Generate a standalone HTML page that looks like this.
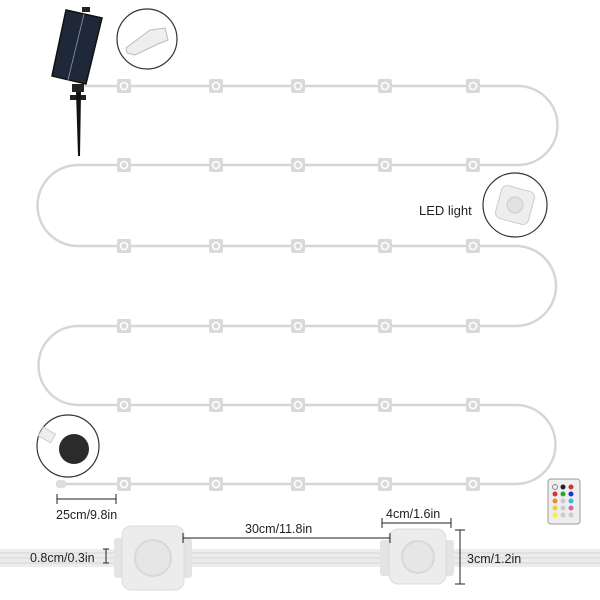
<!DOCTYPE html>
<html><head><style>
html,body{margin:0;padding:0;background:#fff;width:600px;height:600px;overflow:hidden}
svg text{font-family:"Liberation Sans",sans-serif;fill:#222}
</style></head><body>
<svg width="600" height="600" viewBox="0 0 600 600" xmlns="http://www.w3.org/2000/svg">
<defs>
<g id="n"><rect x="-7" y="-7" width="14" height="14" rx="2" fill="#d9d9d9"/><circle r="3.5" fill="none" stroke="#fff" stroke-width="1.6"/></g>
</defs>
<path d="M84 86 H518 A39.5 39.5 0 0 1 518 165 H78 A40.5 40.5 0 0 0 78 246 H516 A40 40 0 0 1 516 326 H78 A39.5 39.5 0 0 0 78 405 H516 A39.5 39.5 0 0 1 516 484 H60" fill="none" stroke="#d6d6d6" stroke-width="2.5"/>
<rect x="56" y="480" width="10" height="8" rx="3" fill="#ddd"/>
<g>
<use href="#n" x="124" y="86"/><use href="#n" x="216" y="86"/><use href="#n" x="298" y="86"/><use href="#n" x="385" y="86"/><use href="#n" x="473" y="86"/>
<use href="#n" x="124" y="165"/><use href="#n" x="216" y="165"/><use href="#n" x="298" y="165"/><use href="#n" x="385" y="165"/><use href="#n" x="473" y="165"/>
<use href="#n" x="124" y="246"/><use href="#n" x="216" y="246"/><use href="#n" x="298" y="246"/><use href="#n" x="385" y="246"/><use href="#n" x="473" y="246"/>
<use href="#n" x="124" y="326"/><use href="#n" x="216" y="326"/><use href="#n" x="298" y="326"/><use href="#n" x="385" y="326"/><use href="#n" x="473" y="326"/>
<use href="#n" x="124" y="405"/><use href="#n" x="216" y="405"/><use href="#n" x="298" y="405"/><use href="#n" x="385" y="405"/><use href="#n" x="473" y="405"/>
<use href="#n" x="124" y="484"/><use href="#n" x="216" y="484"/><use href="#n" x="298" y="484"/><use href="#n" x="385" y="484"/><use href="#n" x="473" y="484"/>
</g>
<polygon points="66,10 102,18 86,84 52,76" fill="#1f2838" stroke="#111" stroke-width="1.5"/>
<line x1="84" y1="14" x2="68" y2="80" stroke="#8899aa" stroke-width="0.8"/>
<rect x="82" y="7" width="8" height="5" fill="#222"/>
<rect x="72" y="84" width="12" height="8" fill="#222"/>
<rect x="70" y="95" width="16" height="5" fill="#222"/>
<polygon points="76,92 81,92 80,156 78,156" fill="#111"/>
<circle cx="147" cy="39" r="30" fill="#fff" stroke="#333" stroke-width="1.2"/>
<polygon points="150,30 165,28 168,40 158,44 135,55 127,53 126,48" fill="#eee" stroke="#bbb"/>
<circle cx="515" cy="205" r="32" fill="#fff" stroke="#333" stroke-width="1.2"/>
<rect x="498" y="188" width="34" height="34" rx="6" fill="#eee" stroke="#ccc" transform="rotate(15 515 205)"/>
<circle cx="515" cy="205" r="8" fill="#e2e2e2" stroke="#ccc"/>
<text x="419" y="215" font-size="13">LED light</text>
<circle cx="68" cy="446" r="31" fill="#fff" stroke="#333" stroke-width="1.2"/>
<rect x="40" y="430" width="14" height="10" fill="#eee" stroke="#ccc" transform="rotate(30 47 435)"/>
<circle cx="74" cy="449" r="15" fill="#2b2b2b"/>
<rect x="548" y="479" width="32" height="45" rx="3" fill="#eee" stroke="#999"/>
<g>
<circle cx="555" cy="487" r="2.5" fill="#eee" stroke="#888"/><circle cx="563" cy="487" r="2.5" fill="#222"/><circle cx="571" cy="487" r="2.5" fill="#c33"/>
<circle cx="555" cy="494" r="2.5" fill="#d33"/><circle cx="563" cy="494" r="2.5" fill="#2a3"/><circle cx="571" cy="494" r="2.5" fill="#23c"/>
<circle cx="555" cy="501" r="2.5" fill="#e83"/><circle cx="563" cy="501" r="2.5" fill="#ccc"/><circle cx="571" cy="501" r="2.5" fill="#3bd"/>
<circle cx="555" cy="508" r="2.5" fill="#ec3"/><circle cx="563" cy="508" r="2.5" fill="#ccc"/><circle cx="571" cy="508" r="2.5" fill="#c6a"/>
<circle cx="555" cy="515" r="2.5" fill="#ee4"/><circle cx="563" cy="515" r="2.5" fill="#ccc"/><circle cx="571" cy="515" r="2.5" fill="#ccc"/>
</g>
<rect x="0" y="549" width="600" height="18" fill="#ececec"/>
<line x1="0" y1="553" x2="600" y2="553" stroke="#d6d6d6"/>
<line x1="0" y1="558" x2="600" y2="558" stroke="#d6d6d6"/>
<line x1="0" y1="563" x2="600" y2="563" stroke="#d6d6d6"/>
<rect x="114" y="538" width="12" height="40" rx="3" fill="#e4e4e4"/>
<rect x="180" y="538" width="12" height="40" rx="3" fill="#e4e4e4"/>
<rect x="380" y="540" width="12" height="36" rx="3" fill="#e4e4e4"/>
<rect x="442" y="540" width="12" height="36" rx="3" fill="#e4e4e4"/>
<rect x="122" y="526" width="62" height="64" rx="9" fill="#ececec" stroke="#ddd"/>
<circle cx="153" cy="558" r="18" fill="#e6e6e6" stroke="#d8d8d8" stroke-width="2"/>
<rect x="389" y="529" width="57" height="55" rx="9" fill="#ececec" stroke="#ddd"/>
<circle cx="418" cy="557" r="16" fill="#e6e6e6" stroke="#d8d8d8" stroke-width="2"/>
<g stroke="#222" stroke-width="1">
<line x1="57" y1="499" x2="116" y2="499"/><line x1="57" y1="494" x2="57" y2="504"/><line x1="116" y1="494" x2="116" y2="504"/>
<line x1="183" y1="538" x2="390" y2="538"/><line x1="183" y1="533" x2="183" y2="543"/><line x1="390" y1="533" x2="390" y2="543"/>
<line x1="382" y1="523" x2="451" y2="523"/><line x1="382" y1="518" x2="382" y2="528"/><line x1="451" y1="518" x2="451" y2="528"/>
<line x1="460" y1="530" x2="460" y2="584"/><line x1="455" y1="530" x2="465" y2="530"/><line x1="455" y1="584" x2="465" y2="584"/>
<line x1="106" y1="549" x2="106" y2="563"/><line x1="103" y1="549" x2="109" y2="549"/><line x1="103" y1="563" x2="109" y2="563"/>
</g>
<g font-size="12.5">
<text x="56" y="519">25cm/9.8in</text>
<text x="245" y="533">30cm/11.8in</text>
<text x="386" y="518">4cm/1.6in</text>
<text x="467" y="563">3cm/1.2in</text>
<text x="30" y="562">0.8cm/0.3in</text>
</g>
</svg>
</body></html>
